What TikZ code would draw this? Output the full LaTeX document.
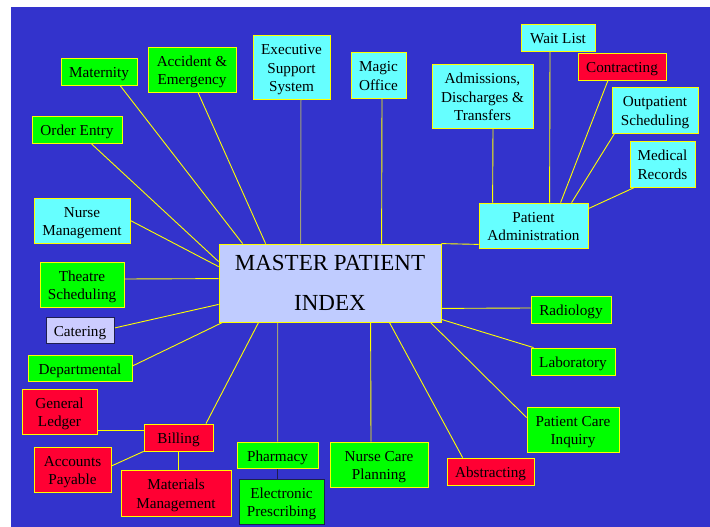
\documentclass[tikz,border=0pt]{standalone}
\usepackage{fontspec}
\setmainfont{Liberation Serif}
\usetikzlibrary{calc}
\definecolor{bluebg}{RGB}{51,51,204}
\definecolor{greenbox}{RGB}{0,255,0}
\definecolor{cyanbox}{RGB}{102,255,255}
\definecolor{redbox}{RGB}{255,0,51}
\definecolor{mpifill}{RGB}{192,204,255}
\definecolor{catfill}{RGB}{204,204,255}
\definecolor{yline}{RGB}{255,255,0}
\definecolor{gline}{RGB}{160,160,120}
\definecolor{dline}{RGB}{30,30,80}
\pgfdeclarelayer{bg}
\pgfdeclarelayer{lines}
\pgfsetlayers{bg,lines,main}
\newcommand{\bx}[7]{%
  \node[#6, minimum width={(#4-#2)*1pt}, minimum height={(#5-#3)*1pt}]
    (#1) at ({(#2+#4)/2},{(#3+#5)/2}) {#7};}
\newcommand{\bt}[7]{%
  \bx{#1}{#2}{#3}{#4}{#5}{#6}{\begin{tabular}{@{}c@{}}\rule{0pt}{18pt}#7\end{tabular}}}
\tikzset{
  x=1pt, y=-1pt,
  basebox/.style={draw=yline, line width=0.8pt, inner sep=0pt, text=black},
  box/.style={basebox, font=\fontsize{15.2}{18.5}\selectfont},
  gbox/.style={box, fill=greenbox},
  cbox/.style={box, fill=cyanbox},
  rbox/.style={box, fill=redbox},
  mpibox/.style={basebox, align=center, fill=mpifill, font=\fontsize{23}{40}\selectfont},
  link/.style={draw=yline, line width=0.9pt},
  glink/.style={draw=gline, line width=1pt},
  dlink/.style={draw=dline, line width=1pt},
}
\begin{document}
\begin{tikzpicture}
\useasboundingbox (0,0) rectangle (710,527);
\begin{pgfonlayer}{bg}
  \fill[white] (0,0) rectangle (710,527);
  \fill[bluebg] (11,7) rectangle (710,527);
\end{pgfonlayer}

\bt{mat}{61}{58}{137}{85}{gbox}{Maternity}
\bt{acc}{148}{47}{236}{92}{gbox}{Accident \&\\Emergency}
\bt{ess}{253}{35}{330}{99}{cbox}{Executive\\Support\\System}
\bt{mag}{351}{52}{406}{98}{cbox}{Magic\\Office}
\bt{adt}{432}{64}{533}{128}{cbox}{Admissions,\\Discharges \&\\Transfers}
\bt{wait}{521}{24}{595}{51}{cbox}{Wait List}
\bt{con}{578}{53}{666}{80}{rbox}{Contracting}
\bt{opd}{612}{87}{698}{133}{cbox}{Outpatient\\Scheduling}
\bt{med}{630}{141}{695}{187}{cbox}{Medical\\Records}
\bt{pa}{479}{203}{588}{248}{cbox}{Patient\\Administration}
\bt{ord}{32}{116}{122}{143}{gbox}{Order Entry}
\bt{nm}{34}{198}{130}{243}{cbox}{Nurse\\Management}
\bx{mpi}{219}{244}{441}{322}{mpibox}{MASTER PATIENT\\INDEX}
\bt{ts}{40}{262}{124}{307}{gbox}{Theatre\\Scheduling}
\bt{cat}{46}{317}{114}{343}{box, fill=catfill, draw=dline}{Catering}
\bt{dep}{28}{355}{132}{381}{gbox}{Departmental}
\bt{gl}{22}{389}{97}{434}{rbox}{General\\Ledger}
\bt{bil}{144}{424}{213}{451}{rbox}{Billing}
\bt{ap}{34}{447}{111}{492}{rbox}{Accounts\\Payable}
\bt{mm}{121}{470}{231}{516}{rbox}{Materials\\Management}
\bt{ph}{237}{442}{318}{468}{gbox}{Pharmacy}
\bt{ep}{239}{479}{324}{524}{gbox, draw=dline}{Electronic\\Prescribing}
\bt{ncp}{330}{442}{428}{487}{gbox}{Nurse Care\\Planning}
\bt{rad}{531}{296}{611}{323}{gbox}{Radiology}
\bt{lab}{531}{348}{615}{375}{gbox}{Laboratory}
\bt{pci}{527}{407}{619}{452}{gbox}{Patient Care\\Inquiry}
\bt{abs}{447}{458}{534}{485}{rbox}{Abstracting}

\begin{pgfonlayer}{lines}
  \draw[link] ([xshift=21pt]mat.south) -- ([xshift=24pt]mpi.north west);
  \draw[link] ([xshift=6pt]acc.south) -- ([xshift=47pt]mpi.north west);
  \draw[glink] ([xshift=9.5pt]ess.south) -- ([xshift=82pt]mpi.north west);
  \draw[link] ([xshift=3.5pt]mag.south) -- ([xshift=163pt]mpi.north west);
  \draw[link] ([xshift=10.5pt]adt.south) -- ([xshift=14pt]pa.north west);
  \draw[link] ([xshift=-8pt]wait.south) -- ([xshift=71pt]pa.north west);
  \draw[link] ([xshift=-14pt]con.south) -- ([xshift=82pt]pa.north west);
  \draw[link] ([xshift=3pt]opd.south west) -- ([xshift=93pt]pa.north west);
  \draw[link] ([xshift=5pt]med.south west) -- ([yshift=-6pt]pa.north east);
  \draw[link] ([yshift=4pt]pa.south west) -- (mpi.north east);
  \draw[link] ([xshift=14pt]ord.south) -- ([yshift=-18pt]mpi.north west);
  \draw[link] (nm.east) -- ([yshift=-23pt]mpi.north west);
  \draw[link] ([yshift=5.5pt]ts.east) -- ([yshift=-35pt]mpi.north west);
  \draw[link] ([yshift=2pt]cat.east) -- ([yshift=18pt]mpi.south west);
  \draw[link] ([yshift=2pt]dep.east) -- ([xshift=4pt]mpi.south west);
  \draw[link] ([yshift=-18.5pt]gl.east) -- ([yshift=7.5pt]bil.west);
  \draw[link] ([xshift=27.5pt]bil.north) -- ([xshift=40pt]mpi.south west);
  \draw[link] ([yshift=3.5pt]ap.east) -- (bil.south west);
  \draw[link] (bil.south) -- (bil.south |- mm.north);
  \draw[glink] ([xshift=59pt]mpi.south west) -- (ph.north);
  \draw[dlink] (ph.south) -- (ph.south |- ep.north);
  \draw[link] ([xshift=152pt]mpi.south west) -- ([xshift=-8pt]ncp.north);
  \draw[link] ([yshift=14pt]mpi.south east) -- ([yshift=1.5pt]rad.west);
  \draw[link] ([yshift=3pt]mpi.south east) -- ([xshift=3pt]lab.north west);
  \draw[link] ([xshift=-11pt]mpi.south east) -- ([yshift=-11pt]pci.north west);
  \draw[link] ([xshift=-52pt]mpi.south east) -- ([xshift=16pt]abs.north west);
\end{pgfonlayer}
\end{tikzpicture}
\end{document}
